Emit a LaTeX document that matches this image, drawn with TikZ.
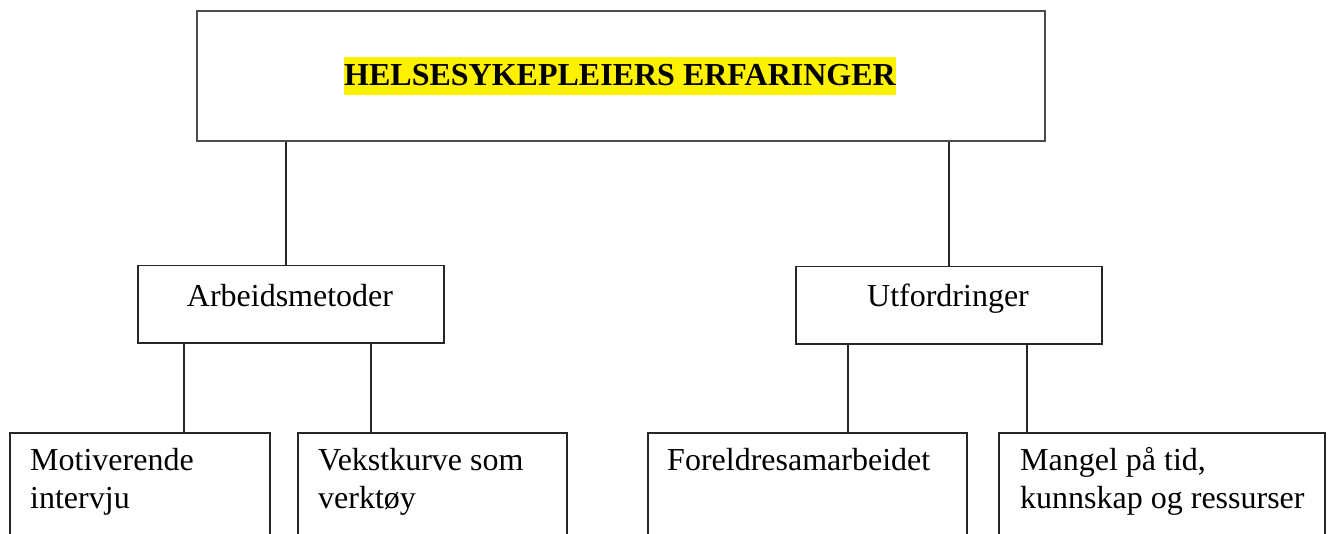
\documentclass[tikz,border=0pt]{standalone}
\usepackage{fontspec}
\setmainfont{Liberation Serif}
\begin{document}
\begin{tikzpicture}[x=1pt,y=-1pt,
  box/.style={draw=black!85, line width=1.5pt, rectangle, inner sep=0pt, anchor=north west},
  topbox/.style={box, draw=black!70, line width=1.8pt},
  conn/.style={draw=black!85, line width=1.5pt},
  lbl/.style={font=\fontsize{32}{38}\selectfont, inner sep=0pt},
  ttlstyle/.style={font=\fontsize{32}{38}\selectfont\bfseries, fill=yellow, inner xsep=0pt, inner ysep=0pt, text height=29pt, text depth=9pt, anchor=base},
]
\useasboundingbox (0,0) rectangle (1329,534);
\clip (0,0) rectangle (1329,534);

% boxes
\node[topbox, minimum width=848pt, minimum height=130pt] (top) at (196,10) {};
\node[box, minimum width=306pt, minimum height=77pt] (am) at (137,265) {};
\node[box, minimum width=306pt, minimum height=77pt] (ut) at (795,266) {};
\node[box, minimum width=260pt, minimum height=140pt] (mot) at (9,432) {};
\node[box, minimum width=269pt, minimum height=140pt] (vek) at (297,432) {};
\node[box, minimum width=319pt, minimum height=140pt] (for) at (647,432) {};
\node[box, minimum width=326pt, minimum height=140pt] (man) at (998,432) {};

% texts (multi-line nodes are anchored at the baseline of their last line)
\node[ttlstyle] (ttl) at (620,86) {HELSESYKEPLEIERS ERFARINGER};
\node[lbl, anchor=base] (amt) at (290,306) {Arbeidsmetoder};
\node[lbl, anchor=base] (utt) at (948,306) {Utfordringer};
\node[lbl, align=left, anchor=base west] (mott) at (30,508) {Motiverende\\intervju};
\node[lbl, align=left, anchor=base west] (vekt) at (318,508) {Vekstkurve som\\verktøy};
\node[lbl, align=left, anchor=base west] (fort) at (667,470) {Foreldresamarbeidet};
\node[lbl, align=left, anchor=base west] (mant) at (1020,508) {Mangel på tid,\\kunnskap og ressurser};

% connector anchor points
\path (am.north) ++(-5,0) coordinate (c1);
\path (am.south west) ++(47,0) coordinate (c2);
\path (am.south west) ++(234,0) coordinate (c3);
\path (ut.south west) ++(53,0) coordinate (c4);
\path (ut.south west) ++(232,0) coordinate (c5);

% connectors
\draw[conn] (c1) -- (c1 |- top.south);
\draw[conn] (ut.north) -- (ut.north |- top.south);
\draw[conn] (c2) -- (c2 |- mot.north);
\draw[conn] (c3) -- (c3 |- vek.north);
\draw[conn] (c4) -- (c4 |- for.north);
\draw[conn] (c5) -- (c5 |- man.north);
\end{tikzpicture}
\end{document}
